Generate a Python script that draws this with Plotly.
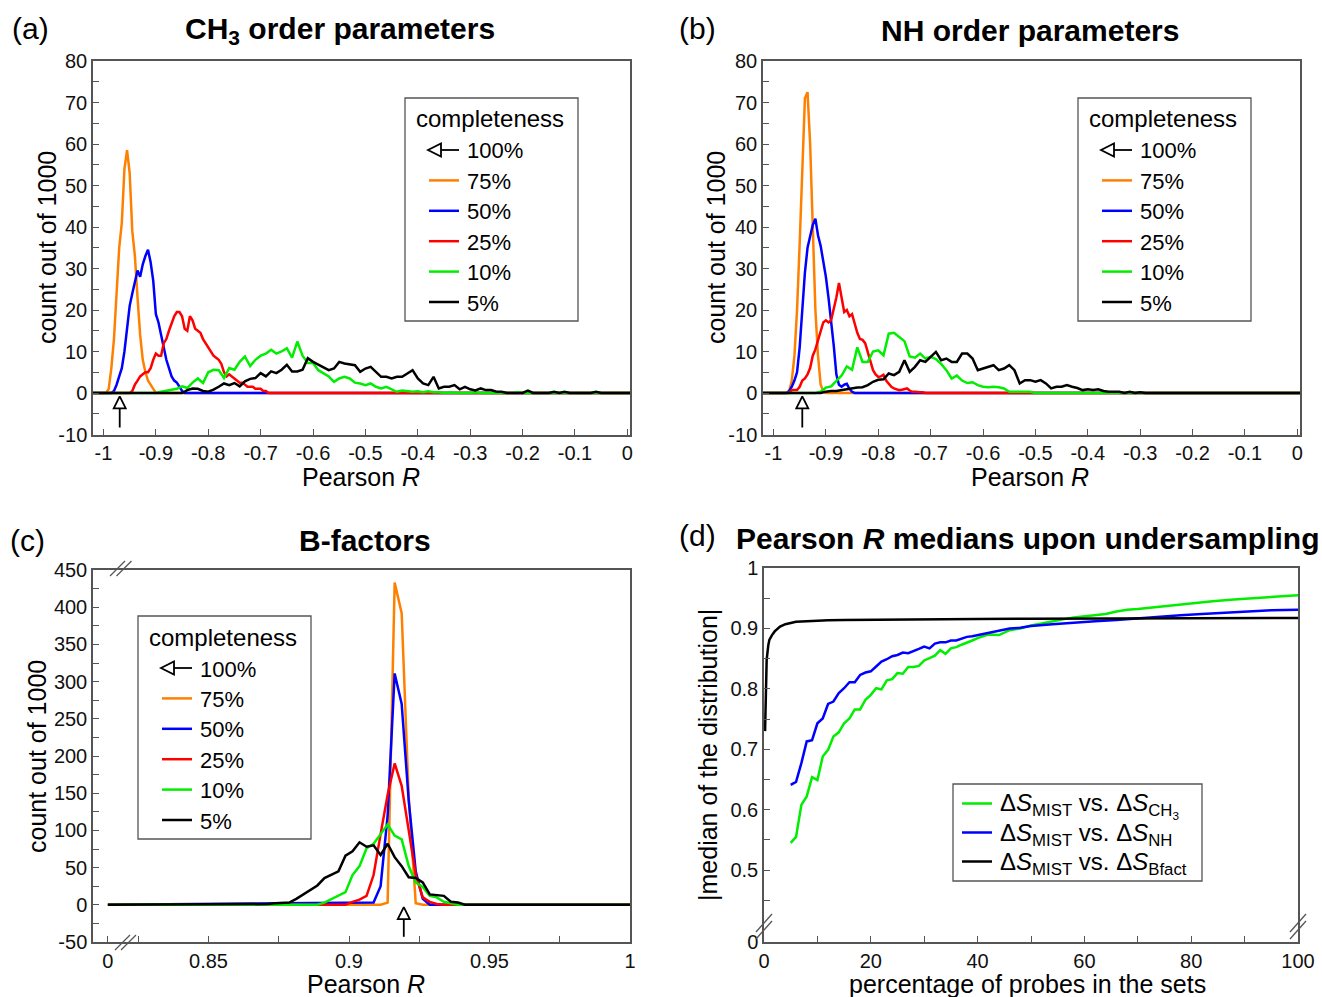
import plotly.graph_objects as go

W, H = 1322, 997
FONT = "Liberation Sans, Arial, sans-serif"
AX_COLOR = "#555555"

# ---------------- data ----------------
completeness_labels = ["100%", "75%", "50%", "25%", "10%", "5%"]
hist_colors = ["#ff8000", "#0000ff", "#ff0000", "#00ee00", "#000000"]   # 75,50,25,10,5 %

# (a) CH3 order parameters : counts per bin (start, step, counts)
ch3_75_start, ch3_75_step = -0.995, 0.005
ch3_75 = [0, 1, 6, 13, 23, 35, 41, 54, 58.5, 53, 39, 33, 23, 14, 8, 5, 3, 2, 1, 0, 0]
ch3_50_start, ch3_50_step = -0.985, 0.005
ch3_50 = [0, 0.5, 2, 4, 6, 10, 15, 21, 24, 27, 29.5, 28, 31, 33, 34.5, 31.5, 27, 19, 17, 14,
          11, 8, 6, 4, 3, 2.5, 1.5, 0.5, 0]
ch3_25_start, ch3_25_step = -0.950, 0.005
ch3_25 = [0, 0.5, 2, 3, 4, 4.5, 5, 5, 6, 8, 9.5, 9, 9, 12, 13, 15, 17, 18.5, 19.5, 19.5,
          18.5, 15.5, 15, 18.5, 17.5, 15.5, 15, 14.5, 13, 12, 11, 10, 9, 8.5, 8, 7, 5, 4, 4.5, 4,
          3.5, 3, 2.5, 2.5, 2, 1.5, 1.5, 1.5, 1, 1, 1, 0.5, 0.5, 0, 0]
ch3_10_start, ch3_10_step = -0.90, 0.01
ch3_10 = [0, 0.3, 0.5, 0.8, 1, 1.6, 1.2, 2.5, 3.5, 2.4, 5, 5.6, 5.5, 3.6, 6, 5.6, 7.5, 8.8, 6.5, 8,
          9, 9.5, 10.4, 9.5, 10, 10.8, 8.5, 12.4, 9, 7.2, 7.2, 5.5, 4.7, 4, 2.7, 3.5, 3.9, 3.5, 2.5, 2.3,
          1.9, 2.3, 1.5, 1.1, 1.5, 0.8, 0.3, 0.6, 0.5, 0.3, 0.4, 0.2, 0.4, 0.2, 0.2, 0, 0.1, 0, 0, 0,
          0, 0.2, 0, 0, 0, 0, 0, 0, 0, 0.2, 0]
ch3_5_start, ch3_5_step = -0.85, 0.01
ch3_5 = [0, 0.7, 1.1, 1, 0.5, 0.3, 0.8, 1.5, 2.3, 1.9, 2.4, 1.6, 2.8, 3.4, 3.6, 4.8, 4, 5.2, 4.8, 5.6,
         6.8, 5.2, 5.2, 5.6, 8.4, 7.5, 6.8, 6, 5.5, 5.9, 7.5, 7.1, 6.9, 6.7, 5.1, 5.9, 6.3, 5, 3.9, 3.9,
         3.5, 3.9, 3.9, 4.7, 5.5, 3.5, 2.3, 1.9, 3.9, 1.1, 1.5, 1.5, 1.9, 0.9, 1.5, 0.9, 0.6, 1.1, 0.7, 0.7,
         0.3, 0.3, 0, 0, 0, 0, 0.6, 0, 0, 0, 0, 0.3, 0, 0.3, 0, 0, 0, 0, 0, 0.3, 0]
ch3_full_R = -0.969

# (b) NH order parameters
nh_75_start, nh_75_step = -0.975, 0.005
nh_75 = [0, 0.5, 3, 9, 20, 36, 55, 71, 72.5, 60, 40, 20, 9, 2, 0.5, 0]
nh_50_start, nh_50_step = -0.975, 0.005
nh_50 = [0, 0.5, 1.5, 3, 5, 11, 21, 29, 35, 38, 40.5, 42, 38, 35.5, 32, 28, 23, 17.5, 11.5, 4.5,
         2, 1.5, 2, 2.2, 1, 0.3, 0]
nh_25_start, nh_25_step = -0.970, 0.005
nh_25 = [0, 0.7, 0.7, 0.7, 1.5, 3, 3.5, 4.5, 6, 9, 10.5, 12.5, 15, 17, 17.5, 17, 17.5, 20, 23, 26.5,
         22.5, 19.5, 20, 18.5, 19, 16.5, 14.5, 13, 12.8, 12, 10, 7.5, 5.5, 4.5, 3.9, 4, 4.4, 3, 2.3, 1.5,
         1.1, 0.8, 0.7, 0.8, 1, 1.1, 0.6, 0.3, 0.3, 0.2, 0.2, 0.2, 0, 0, 0]
nh_10_start, nh_10_step = -0.92, 0.01
nh_10 = [0, 0.3, 1.3, 1.6, 3, 4.2, 6.4, 5.6, 11, 7.5, 7.5, 10, 10.3, 9.1, 14.3, 14.5, 13.5, 12.5, 8.8, 8.5,
         9.5, 8.3, 8.7, 8.2, 7, 5.5, 3.5, 4.2, 3, 2.4, 2.6, 1.9, 1.5, 1.4, 1.5, 1.4, 1.1, 0.3, 0.3, 0.3,
         0.2, 0.3, 0]
nh_5_start, nh_5_step = -0.91, 0.01
nh_5 = [0, 0.3, 0.5, 0.5, 0.7, 1, 1.1, 1.3, 1.4, 1.9, 2.7, 3.2, 3.3, 4.7, 4.3, 5.1, 7.9, 5.1, 6.3, 7.9,
        7.5, 8.7, 9.9, 7.9, 8.3, 7.5, 7.5, 9.5, 9.5, 8.3, 5.5, 5.9, 6.3, 6.7, 5.5, 5.9, 6.7, 5.5, 2.3, 3.1,
        3.1, 2.7, 3.1, 2.3, 1.1, 1.5, 1.5, 1.9, 1.5, 1.2, 0.7, 0.9, 0.7, 0.9, 0.5, 0.3, 0.3, 0.3, 0, 0.3,
        0, 0.2, 0]
nh_full_R = -0.945

# (c) B-factors (bin centres on a 0.0025 grid)
bf_step = 0.0025
bf_75_start = 0.91125
bf_75 = [0, 3, 433, 392, 145, 2, 0]
bf_50_start = 0.90875
bf_50 = [3, 25, 120, 311, 270, 140, 45, 8, 0]
bf_25_start = 0.89875
bf_25 = [0, 4, 7, 12, 40, 95, 148, 190, 160, 100, 40, 10, 4, 1, 0]
bf_10_start = 0.88875
bf_10 = [0, 3, 8, 12, 17, 40, 52, 76, 82, 95, 108, 93, 88, 52, 30, 24, 12, 10, 4, 2, 0]
bf_5_start = 0.86875
bf_5 = [0, 1, 2, 2, 3, 8, 14, 20, 26, 36, 40, 45, 66, 72, 84, 78, 80, 67, 82, 64,
        52, 37, 36, 30, 14, 13, 12, 4, 3, 0]
bf_full_R = 0.9195

# (d) medians vs percentage of probes
pct_ch3 = [5, 6, 7, 8, 9, 10, 11, 12, 13, 14, 15, 16, 17, 18, 19, 20, 21, 22, 23, 24, 25, 26, 27, 28,
           29, 30, 31, 32, 33, 34, 35, 36, 37, 38, 39, 40, 42, 44, 46, 48, 50, 52, 54, 56, 58, 60, 62,
           64, 66, 68, 70, 72, 74, 76, 78, 80, 84, 88, 92, 96, 100]
med_ch3 = [0.545, 0.555, 0.608, 0.622, 0.654, 0.649, 0.688, 0.699, 0.721, 0.728, 0.743, 0.751, 0.766,
           0.766, 0.782, 0.790, 0.801, 0.799, 0.814, 0.816, 0.826, 0.825, 0.836, 0.836, 0.838, 0.847,
           0.851, 0.855, 0.864, 0.858, 0.867, 0.869, 0.873, 0.876, 0.880, 0.884, 0.890, 0.889, 0.897,
           0.900, 0.905, 0.908, 0.912, 0.915, 0.918, 0.920, 0.922, 0.924, 0.928, 0.931, 0.932, 0.934,
           0.936, 0.938, 0.940, 0.942, 0.945, 0.948, 0.950, 0.953, 0.955]
pct_nh = [5, 6, 7, 8, 9, 10, 11, 12, 13, 14, 15, 16, 17, 18, 19, 20, 21, 22, 23, 24, 25, 26, 27, 28,
          29, 30, 31, 32, 33, 34, 35, 36, 37, 38, 39, 40, 42, 44, 46, 48, 50, 54, 58, 62, 66, 70, 74,
          78, 82, 86, 90, 95, 100]
med_nh = [0.641, 0.646, 0.677, 0.713, 0.715, 0.743, 0.751, 0.775, 0.779, 0.793, 0.801, 0.811, 0.811,
          0.823, 0.827, 0.829, 0.837, 0.845, 0.849, 0.854, 0.856, 0.860, 0.859, 0.862, 0.866, 0.870,
          0.867, 0.875, 0.877, 0.877, 0.880, 0.880, 0.883, 0.886, 0.887, 0.889, 0.893, 0.897, 0.900,
          0.901, 0.904, 0.907, 0.910, 0.912, 0.914, 0.917, 0.919, 0.922, 0.924, 0.926, 0.928, 0.930,
          0.931]
pct_bf = [0.2, 0.5, 0.8, 1, 1.5, 2, 3, 4, 5, 6, 8, 10, 12, 15, 20, 25, 30, 40, 50, 60, 70, 80, 90, 100]
med_bf = [0.73, 0.848, 0.872, 0.881, 0.889, 0.895, 0.903, 0.907, 0.909, 0.911, 0.912, 0.913, 0.9135,
          0.914, 0.9145, 0.915, 0.9152, 0.9157, 0.916, 0.9163, 0.9166, 0.9168, 0.917, 0.9172]
d_labels = ["Δ<i>S</i><sub>MIST</sub> vs. Δ<i>S</i><sub>CH<sub>3</sub></sub>",
            "Δ<i>S</i><sub>MIST</sub> vs. Δ<i>S</i><sub>NH</sub>",
            "Δ<i>S</i><sub>MIST</sub> vs. Δ<i>S</i><sub>Bfact</sub>"]
d_colors = ["#00ee00", "#0000ff", "#000000"]

# tick labels
ab_xticks = [-1, -0.9, -0.8, -0.7, -0.6, -0.5, -0.4, -0.3, -0.2, -0.1, 0]
ab_xlabels = ["-1", "-0.9", "-0.8", "-0.7", "-0.6", "-0.5", "-0.4", "-0.3", "-0.2", "-0.1", "0"]
ab_yticks = [-10, 0, 10, 20, 30, 40, 50, 60, 70, 80]
ab_ylabels = ["-10", "0", "10", "20", "30", "40", "50", "60", "70", "80"]
c_yticks = [-50, 0, 50, 100, 150, 200, 250, 300, 350, 400, 450]
c_ylabels = ["-50", "0", "50", "100", "150", "200", "250", "300", "350", "400", "450"]
C_ZERO_POS = 0.8142          # where R = 0 is drawn on the broken axis
c_xticks = [C_ZERO_POS, 0.85, 0.9, 0.95, 1.0]
c_xlabels = ["0", "0.85", "0.9", "0.95", "1"]
D_ZERO_POS = 0.381           # where 0 is drawn on the broken axis
d_yticks = [D_ZERO_POS, 0.5, 0.6, 0.7, 0.8, 0.9, 1.0]
d_ylabels = ["0", "0.5", "0.6", "0.7", "0.8", "0.9", "1"]
d_xticks = [0, 20, 40, 60, 80, 100]

AB_XRANGE = [-1.02, 0.005]
C_XRANGE = [0.8089, 1.0]

# ---------------- helpers ----------------
def px(x):
    return x / W


def py(y):
    return 1 - y / H


def hist_line(start, step, counts, lo, hi):
    xs = [lo] + [round(start + i * step, 6) for i in range(len(counts))] + [hi]
    ys = [0] + list(counts) + [0]
    return xs, ys


fig = go.Figure()

panels = [
    ("x", "y", [(ch3_75_start, ch3_75_step, ch3_75), (ch3_50_start, ch3_50_step, ch3_50),
                (ch3_25_start, ch3_25_step, ch3_25), (ch3_10_start, ch3_10_step, ch3_10),
                (ch3_5_start, ch3_5_step, ch3_5)], AB_XRANGE),
    ("x2", "y2", [(nh_75_start, nh_75_step, nh_75), (nh_50_start, nh_50_step, nh_50),
                  (nh_25_start, nh_25_step, nh_25), (nh_10_start, nh_10_step, nh_10),
                  (nh_5_start, nh_5_step, nh_5)], AB_XRANGE),
    ("x3", "y3", [(bf_75_start, bf_step, bf_75), (bf_50_start, bf_step, bf_50),
                  (bf_25_start, bf_step, bf_25), (bf_10_start, bf_step, bf_10),
                  (bf_5_start, bf_step, bf_5)], [C_ZERO_POS, 1.0]),
]
for xa, ya, series, rng in panels:
    for (st, stp, cnt), col in zip(series, hist_colors):
        xs, ys = hist_line(st, stp, cnt, rng[0], rng[1])
        fig.add_trace(go.Scatter(x=xs, y=ys, mode="lines", xaxis=xa, yaxis=ya,
                                 line=dict(color=col, width=2.5), showlegend=False,
                                 hoverinfo="skip"))

# 100% arrows (open head pointing up, below the zero line)
arrows = [("x", "y", ch3_full_R, -0.8, -3.6, -8.3),
          ("x2", "y2", nh_full_R, -0.8, -3.6, -8.3),
          ("x3", "y3", bf_full_R, -3, -19, -43)]
for xa, ya, r, apex, base, tail in arrows:
    fig.add_trace(go.Scatter(x=[r, r], y=[base, tail], mode="lines", xaxis=xa, yaxis=ya,
                             line=dict(color="black", width=1.8), showlegend=False,
                             hoverinfo="skip"))
    fig.add_trace(go.Scatter(x=[r], y=[apex], mode="markers", xaxis=xa, yaxis=ya,
                             marker=dict(symbol="arrow-up-open", size=12, color="black",
                                         line=dict(width=1.8, color="black")),
                             showlegend=False, hoverinfo="skip"))

# (d)
for xs, ys, col in [(pct_ch3, med_ch3, d_colors[0]), (pct_nh, med_nh, d_colors[1]),
                    (pct_bf, med_bf, d_colors[2])]:
    fig.add_trace(go.Scatter(x=xs, y=ys, mode="lines", xaxis="x4", yaxis="y4",
                             line=dict(color=col, width=2.5), showlegend=False,
                             hoverinfo="skip"))


# ---------------- axes ----------------
def ax(**kw):
    base = dict(showline=True, linecolor=AX_COLOR, linewidth=1.5, mirror=True,
                ticks="inside", ticklen=6, tickwidth=1.3, tickcolor=AX_COLOR,
                showgrid=False, zeroline=False, tickmode="array", automargin=False,
                tickfont=dict(family=FONT, size=20, color="#111111"))
    base.update(kw)
    return base


def minor(vals):
    return dict(tickmode="array", tickvals=vals, ticks="inside", ticklen=6, tickwidth=1.3,
                tickcolor=AX_COLOR, showgrid=False)


ab_minor_y = [-5, 5, 15, 25, 35, 45, 55, 65, 75]
fig.update_layout(
    xaxis=ax(domain=[px(93), px(630)], anchor="y", range=AB_XRANGE,
             tickvals=ab_xticks, ticktext=ab_xlabels),
    yaxis=ax(domain=[py(434.5), py(61)], anchor="x", range=[-10, 80],
             tickvals=ab_yticks, ticktext=ab_ylabels, minor=minor(ab_minor_y)),
    xaxis2=ax(domain=[px(763), px(1300)], anchor="y2", range=AB_XRANGE,
              tickvals=ab_xticks, ticktext=ab_xlabels),
    yaxis2=ax(domain=[py(434.5), py(61)], anchor="x2", range=[-10, 80],
              tickvals=ab_yticks, ticktext=ab_ylabels, minor=minor(ab_minor_y)),
    xaxis3=ax(domain=[px(93), px(630)], anchor="y3", range=C_XRANGE,
              tickvals=c_xticks, ticktext=c_xlabels,
              minor=minor([0.825, 0.875, 0.925, 0.975])),
    yaxis3=ax(domain=[py(942), py(570)], anchor="x3", range=[-50, 450],
              tickvals=c_yticks, ticktext=c_ylabels,
              minor=minor([-25, 25, 75, 125, 175, 225, 275, 325, 375, 425])),
    xaxis4=ax(domain=[px(764), px(1298)], anchor="y4", range=[0, 100],
              tickvals=d_xticks, ticktext=[str(v) for v in d_xticks],
              minor=minor([10, 30, 50, 70, 90])),
    yaxis4=ax(domain=[py(942), py(568)], anchor="x4", range=[D_ZERO_POS, 1.0],
              tickvals=d_yticks, ticktext=d_ylabels,
              minor=minor([0.45, 0.55, 0.65, 0.75, 0.85, 0.95])),
)

shapes = []
annotations = []


def add_line(x0, y0, x1, y1, color="black", width=2.0):
    shapes.append(dict(type="line", xref="paper", yref="paper", x0=px(x0), y0=py(y0),
                       x1=px(x1), y1=py(y1), line=dict(color=color, width=width)))


def add_text(x, y, text, size, xanchor="left", yanchor="middle", angle=0):
    annotations.append(dict(x=px(x), y=py(y), xref="paper", yref="paper", text=text,
                            showarrow=False, xanchor=xanchor, yanchor=yanchor, textangle=angle,
                            font=dict(family=FONT, size=size, color="black")))


def add_box(l, t, r, b):
    shapes.append(dict(type="rect", xref="paper", yref="paper", x0=px(l), y0=py(b),
                       x1=px(r), y1=py(t), line=dict(color=AX_COLOR, width=1.3),
                       fillcolor="white"))


LEG_FONT = 22


def completeness_legend(L, T):
    add_box(L, T, L + 173, T + 223)
    add_text(L + 9, T + 21, "completeness", 24)
    ys = [T + 52 + 30.4 * i for i in range(len(completeness_labels))]
    # arrow entry (100%)
    ay = ys[0]
    shapes.append(dict(type="path", xref="paper", yref="paper",
                       path=f"M{px(L + 23)},{py(ay)} L{px(L + 36)},{py(ay - 6.5)} "
                            f"L{px(L + 36)},{py(ay + 6.5)} Z",
                       line=dict(color="black", width=1.8), fillcolor="rgba(0,0,0,0)"))
    add_line(L + 36, ay, L + 54, ay, "black", 1.8)
    for i, lab in enumerate(completeness_labels):
        if i > 0:
            add_line(L + 24, ys[i], L + 54, ys[i], hist_colors[i - 1], 2.5)
        add_text(L + 60, ys[i] + 1, lab, LEG_FONT)


completeness_legend(405, 98)
completeness_legend(1078, 98)
completeness_legend(138, 616)

# (d) legend
add_box(953, 784, 1202, 881)
for i, (lab, col) in enumerate(zip(d_labels, d_colors)):
    yy = 803.5 + 29 * i
    add_line(962, yy, 992, yy, col, 2.5)
    add_text(998, yy + 2, lab, 24)

# axis break marks
for (x0, y0) in [(115, 950), (121, 950), (110, 576), (116.5, 576)]:
    add_line(x0, y0, x0 + 15, y0 - 15, AX_COLOR, 1.3)
for (x0, y0) in [(756, 932), (756, 939), (1290, 932), (1290, 939)]:
    add_line(x0, y0, x0 + 16, y0 - 18, AX_COLOR, 1.3)

# titles, panel letters, axis titles
TITLE = 30
add_text(340, 30, "<b>CH<sub>3</sub> order parameters</b>", TITLE, "center")
add_text(1030, 30, "<b>NH order parameters</b>", TITLE, "center")
add_text(365, 540, "<b>B-factors</b>", TITLE, "center")
add_text(1027, 538, "<b>Pearson <i>R</i> medians upon undersampling</b>", TITLE, "center")
for lab, x, y in [("(a)", 10, 29), ("(b)", 677, 29), ("(c)", 8, 540), ("(d)", 677, 535)]:
    add_text(x, y, lab, 30)

AXT = 25
add_text(361, 477, "Pearson <i>R</i>", AXT, "center")
add_text(1030, 477, "Pearson <i>R</i>", AXT, "center")
add_text(366, 984, "Pearson <i>R</i>", AXT, "center")
add_text(1027, 984, "percentage of probes in the sets", AXT, "center")
add_text(47, 248, "count out of 1000", AXT, "center", angle=-90)
add_text(716, 248, "count out of 1000", AXT, "center", angle=-90)
add_text(37, 757, "count out of 1000", AXT, "center", angle=-90)
add_text(708, 755, "|median of the distribution|", AXT, "center", angle=-90)

fig.update_layout(
    width=W, height=H, margin=dict(l=0, r=0, t=0, b=0, autoexpand=False),
    paper_bgcolor="white", plot_bgcolor="white", showlegend=False,
    shapes=shapes, annotations=annotations,
    font=dict(family=FONT, size=20, color="black"),
)

fig.write_html("out.html")
